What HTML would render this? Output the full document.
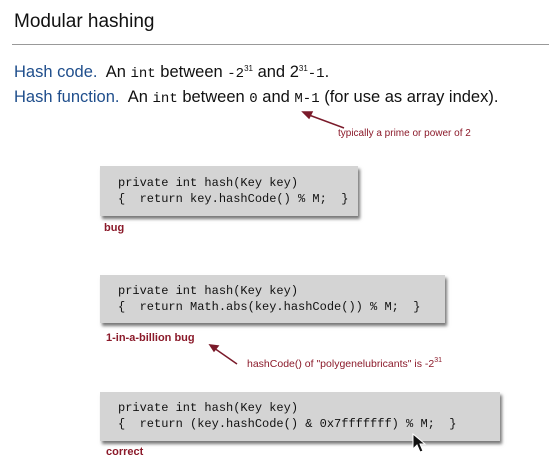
<!DOCTYPE html>
<html><head><style>
body{margin:0;width:549px;height:476px;background:#fff;position:relative;overflow:hidden;font-family:"Liberation Sans",sans-serif;color:#111}
.a{position:absolute;white-space:pre}
.box{position:absolute;background:#d4d4d4;box-shadow:2px 3px 3px #777;}
.code{position:absolute;font-family:"Liberation Mono",monospace;font-size:12px;line-height:16px;white-space:pre;color:#111}
.red{color:#8b1a2a}
.lbl{font-weight:bold;font-size:11px;color:#8b1a2a}
.m{font-family:"Liberation Mono",monospace;font-size:14px}
sup{font-size:8px;vertical-align:6px;line-height:0}
</style></head><body>
<div class="a" style="left:14px;top:11px;font-size:19px;">Modular hashing</div>
<div style="position:absolute;left:12px;top:44px;width:537px;height:1px;background:#999"></div>
<div class="a" style="left:14px;top:63px;font-size:16.5px;"><span style="color:#1f4e8c">Hash code.</span>  An <span class="m">int</span> between <span class="m">-2</span><sup>31</sup> and 2<sup>31</sup><span class="m">-1</span>.</div>
<div class="a" style="left:14px;top:88px;font-size:16.5px;"><span style="color:#1f4e8c">Hash function.</span>  An <span class="m">int</span> between <span class="m">0</span> and <span class="m">M-1</span> (for use as array index).</div>
<div class="a red" style="left:338px;top:128px;font-size:10px;">typically a prime or power of 2</div>
<svg style="position:absolute;left:0;top:0" width="549" height="476">
<g stroke="#7a1a2a" stroke-width="1.5" fill="#7a1a2a">
<line x1="344" y1="128" x2="309" y2="115"/><polygon points="303,112 312,112 309,118"/>
<line x1="237" y1="364" x2="214" y2="348"/><polygon points="210,345 218,346 214,351"/>
</g></svg>
<div class="box" style="left:100px;top:166px;width:258px;height:50px"></div>
<div class="code" style="left:118px;top:175px">private int hash(Key key)
{  return key.hashCode() % M;  }</div>
<div class="a lbl" style="left:104px;top:222px">bug</div>
<div class="box" style="left:100px;top:275px;width:345px;height:48px"></div>
<div class="code" style="left:118px;top:283px">private int hash(Key key)
{  return Math.abs(key.hashCode()) % M;  }</div>
<div class="a lbl" style="left:106px;top:332px">1-in-a-billion bug</div>
<div class="a red" style="left:247px;top:358px;font-size:10.5px;">hashCode() of "polygenelubricants" is -2<sup style="font-size:7px;vertical-align:5px">31</sup></div>
<div class="box" style="left:100px;top:392px;width:400px;height:49px"></div>
<div class="code" style="left:118px;top:400px">private int hash(Key key)
{  return (key.hashCode() &amp; 0x7fffffff) % M;  }</div>
<div class="a lbl" style="left:106px;top:446px">correct</div>
<svg style="position:absolute;left:412px;top:433px" width="16" height="22"><polygon points="1,1 1,16 5,12 8,19 11,18 8,11 13,11" fill="#111" stroke="#fff" stroke-width="1"/></svg>
</body></html>
